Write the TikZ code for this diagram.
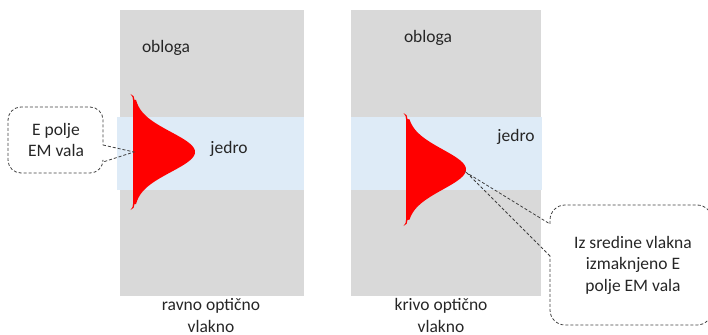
\documentclass[tikz,border=0pt]{standalone}
\usepackage{fontspec}
\setmainfont{Carlito}
\definecolor{cladgrey}{HTML}{D9D9D9}
\definecolor{coreblue}{HTML}{DEEBF7}
\definecolor{calloutline}{HTML}{404040}
\tikzset{
  cladding/.style={fill=cladgrey, draw=none},
  corestripe/.style={fill=coreblue, draw=none},
  wave/.style={fill=red, draw=none},
  callout/.style={draw=calloutline, line width=0.8pt, dash pattern=on 3pt off 2pt},
  lbl/.style={inner sep=0pt, font=\fontsize{17.5}{21.5}\selectfont, text=black!85},
  mlbl/.style={lbl, align=center},
}
\begin{document}
\begin{tikzpicture}[x=1pt,y=-1pt]
\useasboundingbox (0,0) rectangle (708,334);

% straight fibre
\fill[cladding] (120,10) rectangle (304,296);
\fill[corestripe] (117,117) rectangle (304,190);
% bent fibre
\fill[cladding] (351,10) rectangle (541,296);
\fill[corestripe] (351,117) rectangle (542,190);

% field profile, centred in the straight fibre
\fill[wave] (130.5,94) .. controls (133.5,95) and (134.5,97) .. (134.5,100)
  -- plot[domain=-52:52,samples=80] ({134+61*exp(-(\x)^2/800)},{152+\x})
  -- (134.5,204) .. controls (134.5,207) and (133.5,209) .. (130.5,210)
  .. controls (132.5,208) and (133,206) .. (133,204)
  -- (133,100) .. controls (133,98) and (132.5,96) .. cycle;

% field profile, shifted in the bent fibre
\fill[wave] (403.5,113) .. controls (406.5,114) and (407.5,116) .. (407.5,119)
  -- plot[domain=-50:50,samples=80] ({407+59*exp(-(\x)^2/800)},{169.5+\x})
  -- (407.5,220) .. controls (407.5,223) and (406.5,225) .. (403.5,226)
  .. controls (405.5,224) and (406,222) .. (406,220)
  -- (406,119) .. controls (406,117) and (405.5,115) .. cycle;

% region labels
\node[lbl, anchor=base] (clad1) at (166,53) {obloga};
\node[lbl, anchor=base] (clad2) at (428,43) {obloga};
\node[lbl, anchor=base] (core1) at (229,153) {jedro};
\node[lbl, anchor=base] (core2) at (516,141) {jedro};
\node[mlbl, anchor=base] (fib1) at (211,332) {ravno optično\\vlakno};
\node[mlbl, anchor=base] (fib2) at (441,332) {krivo optično\\vlakno};

% callout for the centred field
\coordinate (tipL) at (134,152);
\node[mlbl] (noteL) at (56,140) {E polje\\EM vala};
\draw[callout] (103,145) -- (tipL) -- (103,162) [rounded corners=13pt]
  -- (103,173) -- (8,173) -- (8,107) -- (103,107) [sharp corners] -- cycle;

% callout for the shifted field
\coordinate (tipR) at (467,173);
\node[mlbl] (noteR) at (633,265) {Iz sredine vlakna\\izmaknjeno E\\polje EM vala};
\draw[callout] (550,256) -- (tipR) -- (550,224) [rounded corners=15pt]
  -- (550,205) -- (712,205) -- (712,325) -- (550,325) [sharp corners] -- cycle;
\end{tikzpicture}
\end{document}
